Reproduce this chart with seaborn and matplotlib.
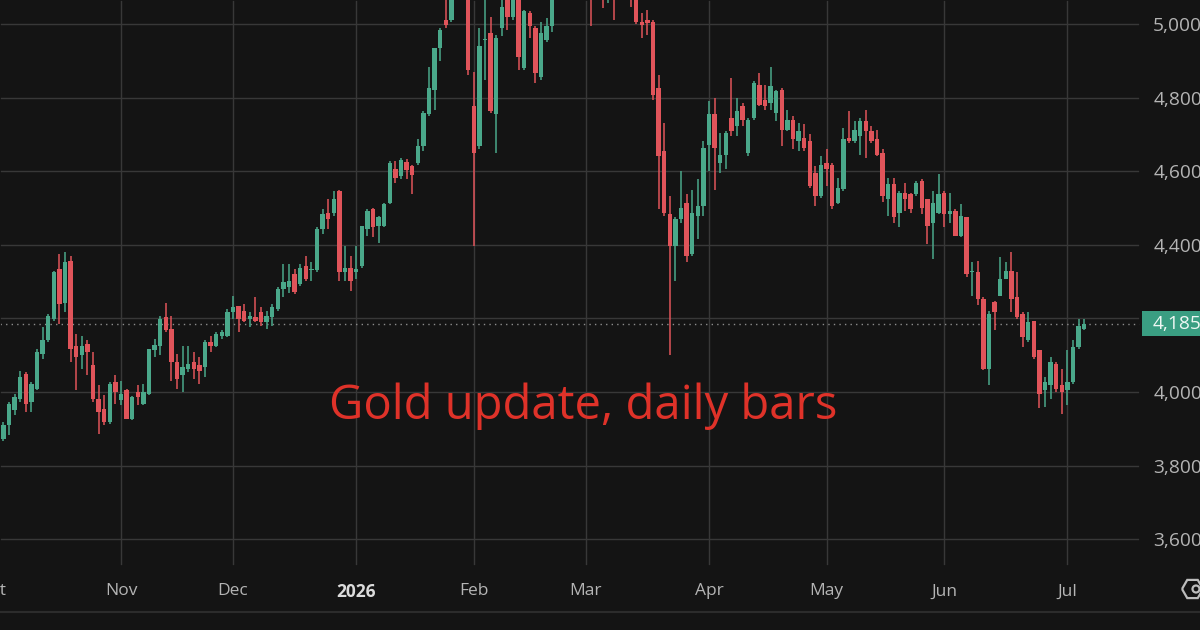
import matplotlib
matplotlib.use("Agg")
import matplotlib.pyplot as plt
import matplotlib.transforms as mtransforms
from matplotlib.lines import Line2D
from matplotlib.patches import Circle, Rectangle, RegularPolygon
import numpy as np
import pandas as pd
import seaborn as sns

# daily OHLC (Oct 2025 - Jul 2026)
opens = [
    3860, 3850, 3873, 3909, 3950, 3982, 4049, 3973, 4009, 4104, 4140, 4198, 4334, 4243, 4356, 4126, 4099, 4131, 4072, 3982,
    3953, 3918, 4027, 3977, 4004, 3927, 4000, 3968, 3995, 4113, 4126, 4203, 4171, 4081, 4045, 4063, 4081, 4074, 4067, 4135,
    4126, 4153, 4153, 4216, 4234, 4221, 4198, 4203, 4216, 4189, 4203, 4225, 4280, 4284, 4320, 4293, 4343, 4330, 4330, 4442,
    4487, 4487, 4546, 4325, 4338, 4325, 4343, 4442, 4496, 4451, 4451, 4514, 4605, 4587, 4625, 4614, 4623, 4668, 4754, 4821,
    4934, 5011, 5011, 5150, 5300, 5400, 4776, 4668, 4955, 4975, 4754, 4988, 5070, 5020, 5080, 4880, 5029, 4988, 4857, 4957,
    4993, 5090, 5150, 5180, 5160, 5200, 5230, 5300, 5200, 5150, 5100, 5150, 5100, 5130, 5140, 5110, 5006, 5010, 5006, 4826,
    4654, 4483, 4397, 4469, 4514, 4375, 4478, 4505, 4672, 4754, 4623, 4645, 4745, 4722, 4776, 4650, 4745, 4835, 4794, 4785,
    4758, 4821, 4713, 4740, 4681, 4690, 4681, 4596, 4533, 4623, 4618, 4514, 4551, 4690, 4681, 4695, 4736, 4709, 4686, 4650,
    4523, 4564, 4487, 4541, 4537, 4537, 4573, 4523, 4460, 4487, 4541, 4483, 4492, 4424, 4474, 4325, 4325, 4253, 4063, 4244,
    4262, 4307, 4329, 4257, 4212, 4140, 4194, 4113, 4004, 4018, 4077, 4018, 4004, 4027, 4122, 4171,
]
highs = [
    3872, 3880, 3918, 3973, 3995, 4058, 4055, 4027, 4117, 4176, 4212, 4329, 4374, 4379, 4370, 4158, 4153, 4140, 4108, 4018,
    3991, 4027, 4045, 4031, 4009, 3990, 4018, 4022, 4117, 4144, 4207, 4243, 4207, 4104, 4126, 4126, 4108, 4095, 4140, 4153,
    4162, 4167, 4225, 4261, 4234, 4239, 4216, 4257, 4230, 4221, 4239, 4284, 4347, 4347, 4334, 4347, 4370, 4352, 4447, 4496,
    4523, 4546, 4550, 4397, 4370, 4397, 4451, 4496, 4501, 4478, 4514, 4627, 4627, 4636, 4632, 4618, 4686, 4763, 4884, 4934,
    4988, 5100, 5200, 5350, 5600, 5450, 4870, 4988, 5080, 5020, 4970, 5070, 5080, 5100, 5100, 5038, 5034, 4993, 5006, 5015,
    5110, 5180, 5220, 5230, 5240, 5260, 5400, 5420, 5250, 5200, 5180, 5200, 5170, 5180, 5170, 5150, 5029, 5038, 5010, 4862,
    4731, 4532, 4474, 4600, 4537, 4550, 4578, 4681, 4790, 4799, 4704, 4709, 4853, 4799, 4785, 4745, 4844, 4866, 4835, 4884,
    4821, 4826, 4767, 4749, 4731, 4727, 4700, 4614, 4641, 4659, 4623, 4582, 4717, 4763, 4736, 4745, 4767, 4722, 4713, 4659,
    4582, 4582, 4546, 4569, 4541, 4573, 4578, 4523, 4546, 4591, 4546, 4541, 4496, 4510, 4474, 4352, 4356, 4257, 4221, 4248,
    4366, 4352, 4379, 4325, 4217, 4217, 4194, 4113, 4040, 4095, 4081, 4063, 4113, 4140, 4198, 4198,
]
lows = [
    3840, 3838, 3868, 3882, 3937, 3973, 3945, 3945, 4005, 4090, 4135, 4194, 4185, 4216, 4081, 4004, 4063, 4045, 3973, 3887,
    3909, 3914, 3968, 3964, 3927, 3925, 3964, 3964, 3991, 4095, 4099, 4162, 4031, 4009, 4000, 4054, 4036, 4022, 4040, 4108,
    4122, 4144, 4149, 4198, 4162, 4189, 4176, 4189, 4180, 4171, 4180, 4221, 4257, 4270, 4266, 4289, 4302, 4302, 4325, 4429,
    4442, 4478, 4302, 4302, 4275, 4307, 4338, 4424, 4420, 4406, 4447, 4510, 4569, 4578, 4578, 4537, 4618, 4654, 4749, 4767,
    4898, 4988, 5005, 5120, 5250, 4860, 4397, 4660, 4848, 4758, 4650, 4966, 4984, 5011, 4875, 4875, 4961, 4839, 4848, 4952,
    4979, 5080, 5120, 5130, 5140, 5170, 5200, 4993, 5100, 5043, 5056, 5011, 5080, 5090, 5047, 5000, 4961, 4970, 4794, 4496,
    4478, 4099, 4302, 4460, 4352, 4370, 4415, 4478, 4600, 4550, 4596, 4605, 4695, 4695, 4722, 4641, 4740, 4776, 4767, 4767,
    4736, 4668, 4709, 4659, 4654, 4654, 4555, 4505, 4528, 4560, 4496, 4510, 4546, 4677, 4677, 4645, 4636, 4677, 4641, 4515,
    4478, 4460, 4447, 4492, 4487, 4532, 4483, 4402, 4361, 4483, 4447, 4460, 4424, 4420, 4311, 4262, 4235, 4059, 4018, 4167,
    4262, 4307, 4217, 4198, 4122, 4135, 4090, 3955, 3959, 3982, 4000, 3941, 3964, 4022, 4117, 4167,
]
closes = [
    3852, 3870, 3909, 3968, 3986, 4040, 3968, 4022, 4108, 4140, 4207, 4325, 4239, 4352, 4117, 4095, 4126, 4108, 3982, 3946,
    3918, 4022, 4000, 3995, 3927, 3986, 3986, 4000, 4117, 4128, 4198, 4167, 4081, 4036, 4067, 4077, 4063, 4058, 4135, 4126,
    4158, 4162, 4216, 4230, 4198, 4194, 4207, 4194, 4189, 4207, 4230, 4279, 4298, 4302, 4271, 4338, 4307, 4334, 4442, 4483,
    4469, 4523, 4325, 4338, 4302, 4334, 4451, 4492, 4447, 4474, 4510, 4623, 4582, 4630, 4603, 4590, 4668, 4758, 4826, 4934,
    4984, 4997, 5150, 5300, 5400, 4875, 4650, 4939, 4960, 4763, 4961, 5047, 5020, 5080, 4911, 5034, 4993, 4866, 4975, 4993,
    5070, 5150, 5180, 5160, 5200, 5230, 5300, 5200, 5150, 5100, 5150, 5100, 5130, 5140, 5110, 5006, 4997, 5002, 4808, 4641,
    4487, 4397, 4469, 4501, 4370, 4487, 4505, 4663, 4754, 4663, 4645, 4704, 4708, 4763, 4740, 4740, 4839, 4781, 4776, 4830,
    4817, 4713, 4740, 4686, 4709, 4663, 4560, 4533, 4618, 4605, 4505, 4555, 4686, 4681, 4713, 4736, 4709, 4681, 4645, 4532,
    4564, 4474, 4541, 4523, 4496, 4569, 4501, 4451, 4514, 4537, 4483, 4492, 4424, 4478, 4320, 4327, 4253, 4063, 4212, 4217,
    4307, 4329, 4253, 4203, 4149, 4190, 4095, 3995, 4027, 4081, 4009, 4000, 4027, 4122, 4180, 4185,
]
holidays = ["2025-12-25", "2026-01-01", "2026-04-03"]
price_ticks = [3600, 3800, 4000, 4200, 4400, 4600, 4800, 5000]
last_price = 4185
title = "Gold update, daily bars"

BG = "#141414"
GRID = "#383838"
TEXT = "#b4b4b4"
UP = "#4aa88a"
DOWN = "#e0545a"

sns.set_theme(style="dark", rc={
    "axes.facecolor": BG,
    "figure.facecolor": BG,
    "axes.edgecolor": BG,
    "text.color": TEXT,
    "xtick.color": TEXT,
    "ytick.color": TEXT,
})
plt.rcParams["font.family"] = ["Open Sans", "DejaVu Sans"]

dates = pd.bdate_range("2025-10-01", periods=len(closes), freq="C", holidays=holidays)
df = pd.DataFrame({"date": dates, "open": opens, "high": highs, "low": lows, "close": closes})
df["x"] = np.arange(len(df))
df["color"] = np.where(df["close"] >= df["open"], UP, DOWN)

fig = plt.figure(figsize=(12, 6.3), dpi=100)
ax = fig.add_axes([0, 1 - 566 / 630, 1140 / 1200, 566 / 630])

ax.vlines(df["x"], df["low"], df["high"], colors=df["color"], linewidth=1.1, zorder=3)
body_low = df[["open", "close"]].min(axis=1)
body_h = (df["close"] - df["open"]).abs().clip(lower=3)
ax.bar(df["x"], body_h, bottom=body_low, width=0.76, color=df["color"], linewidth=0, zorder=4)

# month ticks at the first bar of each month
first = df.groupby(df["date"].dt.to_period("M"))["x"].first()
labels = ["2026" if p.month == 1 else p.strftime("%b") for p in first.index]
ax.set_xticks(first.values)
ax.set_xticklabels(labels)
for lab in ax.get_xticklabels():
    lab.set_fontsize(12.5)
    if lab.get_text() == "2026":
        lab.set_fontweight("bold")
        lab.set_color("#dcdcdc")
ax.tick_params(axis="x", length=4, width=1, color="#4a4a4a", pad=8.5, direction="out")

ax.yaxis.tick_right()
ax.set_yticks(price_ticks)
ax.set_yticklabels(["" if v == 4200 else f"{v:,}" for v in price_ticks], fontsize=13.8)
ax.tick_params(axis="y", length=0, pad=9.5)
ax.grid(True, color=GRID, linewidth=1)
ax.set_axisbelow(True)

# limits after the ticks, so the Oct tick does not widen the view
ax.set_xlim(1.39, 204.96)
ax.set_ylim(3527, 5065)

# the Oct tick sits just left of the view; its label is still half visible
xblend = mtransforms.blended_transform_factory(ax.transData, ax.transAxes)
ax.annotate(labels[0], xy=(first.values[0], 0), xycoords=xblend, xytext=(0, -12.5),
            textcoords="offset points", ha="center", va="top", fontsize=12.5,
            color=TEXT, annotation_clip=False)

ax.axhline(last_price, color="#8c8c8c", linewidth=1, linestyle=(0, (1, 3)), zorder=2)

# last price tag on the price axis
blend = mtransforms.blended_transform_factory(fig.transFigure, ax.transData)
ax.add_patch(Rectangle((1142 / 1200, last_price - 34), 0.06, 68, transform=blend,
                       facecolor="#3a9e82", edgecolor="none", clip_on=False, zorder=5))
ax.text(1153 / 1200, last_price, f"{last_price:,}", transform=blend, ha="left", va="center",
        fontsize=13.8, color="#eef7f3", zorder=6, clip_on=False)

ax.text(583 / 1140, 1 - 406 / 566, title, transform=ax.transAxes,
        ha="center", va="center", fontsize=34, color="#df3229", zorder=6)

fig.add_artist(Line2D([0, 1], [1 - 612 / 630] * 2, color="#2c2c2c", linewidth=1.5))
fig.add_artist(RegularPolygon((11.925, (630 - 589) / 100), 6, radius=0.105, orientation=np.pi / 2,
                              transform=fig.dpi_scale_trans, facecolor="none", edgecolor="#bdbdbd", linewidth=1.6))
fig.add_artist(Circle((11.96, (630 - 589) / 100), 0.035, transform=fig.dpi_scale_trans,
                      facecolor="none", edgecolor="#bdbdbd", linewidth=1.6))

fig.savefig("out.png", dpi=100, facecolor=BG)
